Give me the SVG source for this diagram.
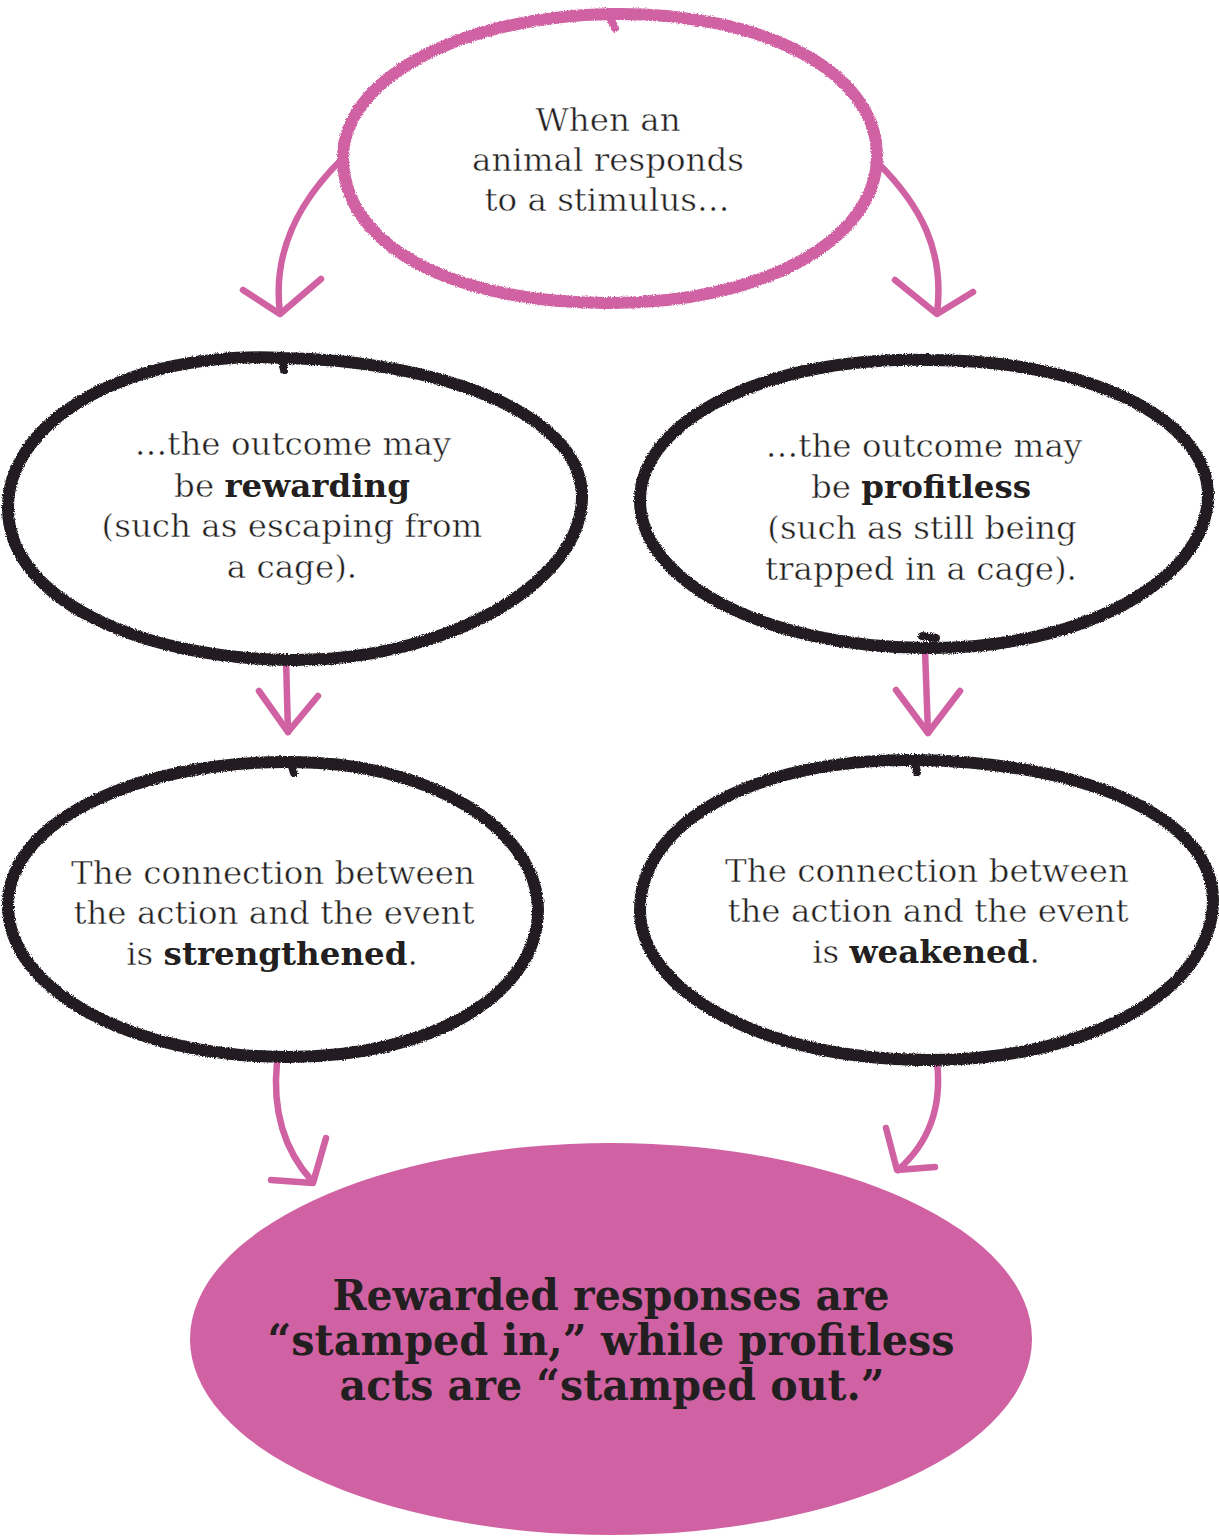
<svg xmlns="http://www.w3.org/2000/svg" width="1219" height="1536" viewBox="0 0 1219 1536">
<defs>
<filter id="rough" x="-5%" y="-5%" width="110%" height="110%">
<feTurbulence type="fractalNoise" baseFrequency="0.9" numOctaves="2" seed="3" result="n"/>
<feDisplacementMap in="SourceGraphic" in2="n" scale="3.5" xChannelSelector="R" yChannelSelector="G"/>
</filter>
</defs>
<style>
.ring-pink{fill:none;stroke:#d062a3;stroke-width:12;stroke-linecap:round;stroke-linejoin:round}
.ring-black{fill:none;stroke:#231f20;stroke-width:12;stroke-linecap:round;stroke-linejoin:round}
.arrow{fill:none;stroke:#d062a3;stroke-width:6.5;stroke-linecap:round;stroke-linejoin:round}
.t{font-family:"DejaVu Serif","Liberation Serif",serif;font-size:32.5px;fill:#231f20;text-anchor:middle;stroke:#ffffff;stroke-width:0.5px}
.b{font-weight:bold;stroke:none}
.big{font-family:"DejaVu Serif Condensed","DejaVu Serif","Liberation Serif",serif;font-stretch:condensed;font-weight:bold;font-size:42px;fill:#231f20;text-anchor:middle}
</style>
<rect width="1219" height="1536" fill="#ffffff"/>

<g id="connectors">
<path class="arrow" d="M343,158 C300,200 272,250 280,313"/>
<path class="arrow" d="M243,290 L280,314 L321,279"/>
<path class="arrow" d="M878,163 C920,205 945,250 937,313"/>
<path class="arrow" d="M895,280 L937,314 L973,292"/>
<path class="arrow" d="M286,660 L288,732"/>
<path class="arrow" d="M259,691 L288,732 L318,696"/>
<path class="arrow" d="M925,650 L928,733"/>
<path class="arrow" d="M896,690 L928,733 L960,691"/>
<path class="arrow" d="M277,1062 C272,1112 284,1150 312,1181"/>
<path class="arrow" d="M326,1138 L313,1183 L271,1180"/>
<path class="arrow" d="M937,1062 C942,1105 930,1142 898,1170"/>
<path class="arrow" d="M886,1128 L897,1170 L935,1167"/>
</g>

<g id="node-stimulus">
<g filter="url(#rough)">
<path class="ring-pink" d="M612,14 C760,12 876,70 877,155 C878,240 760,305 605,303 C450,302 345,245 343,160 C341,80 460,16 612,14 Z"/>
<path class="ring-pink" d="M607,12 L615,28" style="stroke-width:8"/>
</g>
<text class="t" x="608" y="131">When an</text>
<text class="t" x="608" y="171">animal responds</text>
<text class="t" x="607" y="211">to a stimulus…</text>
</g>

<g id="node-rewarding">
<g filter="url(#rough)">
<path class="ring-black" d="M283,358 C430,360 580,410 582,495 C584,585 440,662 290,660 C140,658 10,600 8,510 C6,420 130,350 283,358 Z"/>
<path class="ring-black" d="M281,356 L284,370" style="stroke-width:8"/>
</g>
<text class="t" x="293" y="455">…the outcome may</text>
<text class="t" x="292" y="497">be <tspan class="b">rewarding</tspan></text>
<text class="t" x="292" y="537">(such as escaping from</text>
<text class="t" x="292" y="578">a cage).</text>
</g>

<g id="node-profitless">
<g filter="url(#rough)">
<path class="ring-black" d="M930,360 C1090,360 1208,420 1208,495 C1208,580 1080,650 925,648 C760,646 640,580 640,500 C640,420 770,355 930,360 Z"/>
<path class="ring-black" d="M922,636 L936,638" style="stroke-width:8"/>
</g>
<text class="t" x="924" y="457">…the outcome may</text>
<text class="t" x="921" y="498">be <tspan class="b">profitless</tspan></text>
<text class="t" x="922" y="539">(such as still being</text>
<text class="t" x="921" y="580">trapped in a cage).</text>
</g>

<g id="node-strengthened">
<g filter="url(#rough)">
<path class="ring-black" d="M285,762 C430,760 538,830 538,910 C538,995 430,1058 285,1057 C130,1056 8,990 8,905 C8,820 140,762 285,762 Z"/>
<path class="ring-black" d="M290,760 L294,773" style="stroke-width:8"/>
</g>
<text class="t" x="273" y="884">The connection between</text>
<text class="t" x="274" y="924">the action and the event</text>
<text class="t" x="272" y="965">is <tspan class="b">strengthened</tspan>.</text>
</g>

<g id="node-weakened">
<g filter="url(#rough)">
<path class="ring-black" d="M915,760 C1090,762 1213,820 1213,900 C1213,990 1090,1060 930,1060 C760,1060 640,990 640,910 C640,820 760,758 915,760 Z"/>
<path class="ring-black" d="M914,758 L917,772" style="stroke-width:8"/>
</g>
<text class="t" x="927" y="882">The connection between</text>
<text class="t" x="928" y="922">the action and the event</text>
<text class="t" x="926" y="963">is <tspan class="b">weakened</tspan>.</text>
</g>

<g id="node-conclusion">
<ellipse cx="611" cy="1339" rx="421" ry="196" fill="#d062a3"/>
<text class="big" x="611" y="1310" textLength="557" lengthAdjust="spacingAndGlyphs">Rewarded responses are</text>
<text class="big" x="611" y="1355" textLength="687" lengthAdjust="spacingAndGlyphs">“stamped in,” while profitless</text>
<text class="big" x="612" y="1400" textLength="545" lengthAdjust="spacingAndGlyphs">acts are “stamped out.”</text>
</g>
</svg>
